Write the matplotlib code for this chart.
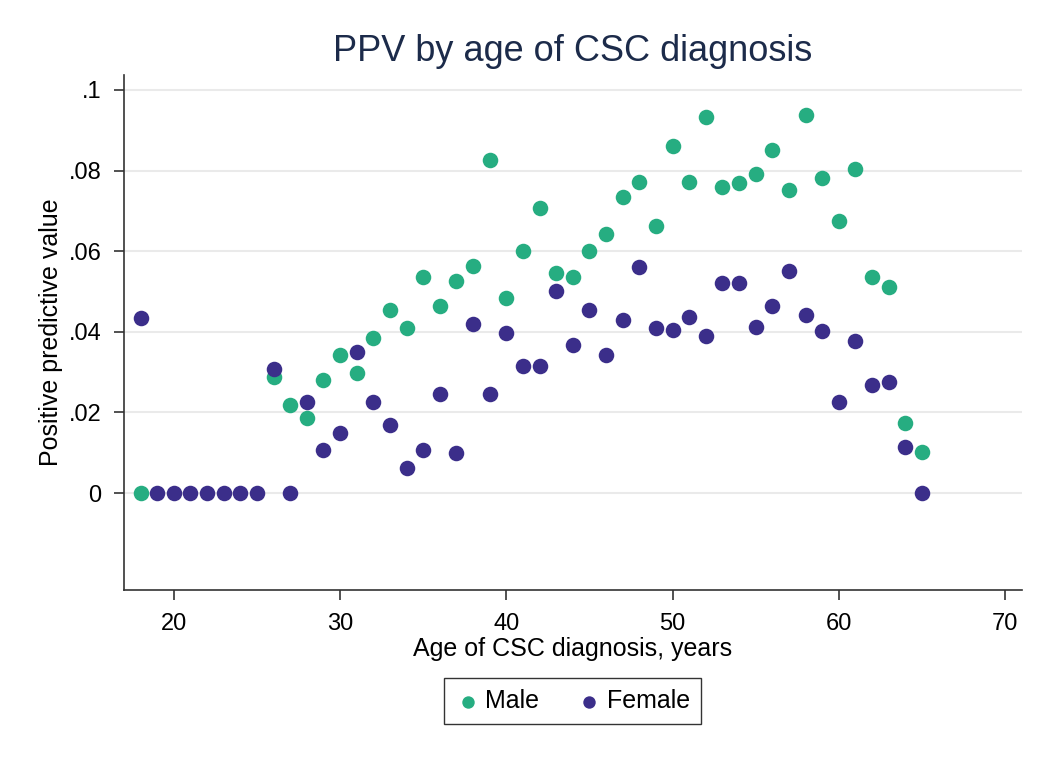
import numpy as np
import matplotlib.pyplot as plt

plt.rcParams['font.family'] = ['Liberation Sans', 'DejaVu Sans']

# Age of diagnosis
age_male = [18, 26, 27, 28, 29, 30, 31, 32, 33, 34, 35, 36, 37, 38, 39, 40, 41, 42,
            43, 44, 45, 46, 47, 48, 49, 50, 51, 52, 53, 54, 55, 56, 57, 58, 59, 60,
            61, 62, 63, 64, 65]
ppv_male = [0.0, 0.0287, 0.0218, 0.0185, 0.028, 0.0343, 0.0297, 0.0385, 0.0453, 0.041,
            0.0535, 0.0465, 0.0525, 0.0563, 0.0825, 0.0483, 0.06, 0.0707, 0.0545, 0.0535,
            0.06, 0.0642, 0.0735, 0.0772, 0.0663, 0.0862, 0.0771, 0.0932, 0.0758, 0.0768,
            0.0792, 0.085, 0.0752, 0.0938, 0.0782, 0.0675, 0.0804, 0.0535, 0.0512, 0.0173,
            0.0102]

age_female = [18, 19, 20, 21, 22, 23, 24, 25, 26, 27, 28, 29, 30, 31, 32, 33, 34, 35,
              36, 37, 38, 39, 40, 41, 42, 43, 44, 45, 46, 47, 48, 49, 50, 51, 52, 53,
              54, 55, 56, 57, 58, 59, 60, 61, 62, 63, 64, 65]
ppv_female = [0.0435, 0, 0, 0, 0, 0, 0, 0, 0.0307, 0.0, 0.0225, 0.0107, 0.015, 0.035,
              0.0225, 0.0168, 0.0063, 0.0108, 0.0245, 0.0099, 0.042, 0.0245, 0.0398,
              0.0315, 0.0315, 0.05, 0.0367, 0.0453, 0.0342, 0.0428, 0.056, 0.041, 0.0405,
              0.0436, 0.039, 0.052, 0.052, 0.0412, 0.0465, 0.0552, 0.0441, 0.0402, 0.0227,
              0.0377, 0.0268, 0.0275, 0.0115, 0.0]

xticks = [20, 30, 40, 50, 60, 70]
yticks = [0, 0.02, 0.04, 0.06, 0.08, 0.1]
ytick_labels = ['0', '.02', '.04', '.06', '.08', '.1']

green = '#26ad81'
purple = '#3b2e8a'

fig = plt.figure(figsize=(10.5, 7.65), dpi=100)
ax = fig.add_axes([0.118, 0.229, 0.855, 0.673])

ax.scatter(age_male, ppv_male, s=125, color=green, label='Male', zorder=3, linewidths=0)
ax.scatter(age_female, ppv_female, s=125, color=purple, label='Female', zorder=3, linewidths=0)

ax.set_xlim(17.0, 71.0)
ax.set_ylim(-0.024, 0.1037)
ax.set_xticks(xticks)
ax.set_yticks(yticks)
ax.set_yticklabels(ytick_labels)
ax.grid(axis='y', color='#eaeaea', linewidth=1.5)
ax.set_axisbelow(True)

for s in ['top', 'right']:
    ax.spines[s].set_visible(False)
for s in ['left', 'bottom']:
    ax.spines[s].set_color('#333333')
    ax.spines[s].set_linewidth(1.2)
ax.tick_params(length=7, width=1.2, color='#333333', labelsize=17)
ax.tick_params(axis='x', pad=10)
ax.tick_params(axis='y', pad=9)

ax.set_xlabel('Age of CSC diagnosis, years', fontsize=18, labelpad=1)
ax.set_ylabel('Positive predictive value', fontsize=18, labelpad=4)
ax.set_title('PPV by age of CSC diagnosis', fontsize=26, color='#1c2b4a', pad=10)

leg = ax.legend(loc='upper center', bbox_to_anchor=(0.5, -0.147), ncol=2, fontsize=18,
                frameon=True, fancybox=False, edgecolor='black', handletextpad=0.2,
                columnspacing=1.5, markerscale=0.8, borderpad=0.45, handlelength=1.0)
leg.get_frame().set_linewidth(1.0)

fig.savefig('out.png', dpi=100, facecolor='white')
